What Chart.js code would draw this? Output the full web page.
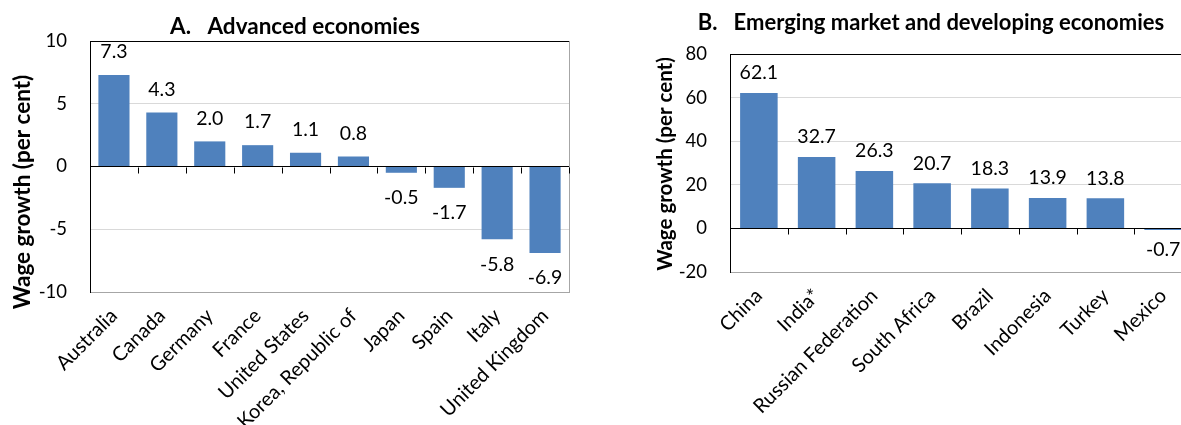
<!DOCTYPE html>
<html>
<head>
<meta charset="utf-8">
<script src="https://cdn.jsdelivr.net/npm/chart.js@4.4.0/dist/chart.umd.min.js"></script>
<style>
html, body { margin:0; padding:0; background:#fff; overflow:hidden; }
#wrap { position:relative; width:1181px; height:425px; overflow:hidden; }
#chartA { position:absolute; left:0; top:0; }
#chartB { position:absolute; left:590px; top:0; }
</style>
</head>
<body>
<div id="wrap">
  <canvas id="chartA" width="590" height="425"></canvas>
  <canvas id="chartB" width="620" height="425"></canvas>
</div>
<script>
// panel A: advanced economies
const advTitle = "A.   Advanced economies";
const advLabels = ["Australia", "Canada", "Germany", "France", "United States", "Korea, Republic of", "Japan", "Spain", "Italy", "United Kingdom"];
const advValues = [7.3, 4.3, 2.0, 1.7, 1.1, 0.8, -0.5, -1.7, -5.8, -6.9];
const advTicks = [-10, -5, 0, 5, 10];

// panel B: emerging market and developing economies
const emTitle = "B.   Emerging market and developing economies";
const emLabels = ["China", "India*", "Russian Federation", "South Africa", "Brazil", "Indonesia", "Turkey", "Mexico"];
const emValues = [62.1, 32.7, 26.3, 20.7, 18.3, 13.9, 13.8, -0.7];
const emTicks = [-20, 0, 20, 40, 60, 80];

const yTitle = "Wage growth (per cent)";

const barColor = "#4F81BD";
const gridColor = "#D9D9D9";
const fontFamily = "Lato, 'Open Sans', sans-serif";

// draws panel title, y title, value labels, zero-line tick marks and right border
const panelPlugin = {
    id: "panel",
    afterDraw(chart, args, opts){
        const ctx = chart.ctx;
        const area = chart.chartArea;
        const xs = chart.scales.x;
        const ys = chart.scales.y;
        ctx.save();

        // right border
        ctx.strokeStyle = "#A6A6A6";
        ctx.lineWidth = 1;
        ctx.beginPath();
        ctx.moveTo(Math.round(area.right) + 0.5, area.top);
        ctx.lineTo(Math.round(area.right) + 0.5, area.bottom);
        ctx.stroke();

        // tick marks on the zero line
        const y0 = Math.round(ys.getPixelForValue(0)) + 0.5;
        ctx.strokeStyle = "#000";
        ctx.beginPath();
        const n = chart.data.labels.length;
        for(let i = 1; i <= n; i++){
            let x;
            if(i < n){
                x = (xs.getPixelForValue(i - 1) + xs.getPixelForValue(i)) / 2;
            } else {
                x = area.right;
            }
            x = Math.round(x) + 0.5;
            ctx.moveTo(x, y0);
            ctx.lineTo(x, y0 + 6);
        }
        ctx.stroke();

        // value labels
        ctx.fillStyle = "#000";
        ctx.font = `${opts.valueSize}px ${fontFamily}`;
        ctx.textAlign = "center";
        ctx.textBaseline = "middle";
        const meta = chart.getDatasetMeta(0);
        const vals = chart.data.datasets[0].data;
        meta.data.forEach((bar, i)=>{
            const v = vals[i];
            const y = v >= 0 ? bar.y - opts.offPos : bar.y + opts.offNeg;
            ctx.fillText(v.toFixed(1), bar.x, y);
        });

        // panel title
        ctx.font = `bold ${opts.titleSize}px ${fontFamily}`;
        ctx.fillText(opts.title, opts.titleX, opts.titleY);

        // y axis title
        ctx.translate(opts.yTitleX, opts.yTitleY);
        ctx.rotate(-Math.PI / 2);
        ctx.font = `bold ${opts.yTitleSize}px ${fontFamily}`;
        ctx.fillText(yTitle, 0, 0);

        ctx.restore();
    }
};

function makePanel(canvasId, labels, values, ticks, padding, yWidth, xHeight, panelOpts){
    const tickMin = ticks[0];
    const tickMax = ticks[ticks.length - 1];
    return new Chart(document.getElementById(canvasId), {
        type: "bar",
        data: {
            labels: labels,
            datasets: [{
                data: values,
                backgroundColor: barColor,
                borderWidth: 0,
                barPercentage: 1,
                categoryPercentage: 0.65
            }]
        },
        options: {
            responsive: false,
            animation: false,
            devicePixelRatio: 1,
            layout: { padding: padding },
            plugins: {
                legend: { display: false },
                tooltip: { enabled: false },
                title: { display: false },
                panel: panelOpts
            },
            scales: {
                x: {
                    grid: { display: false, drawTicks: false },
                    border: { color: "#A6A6A6", width: 1 },
                    ticks: {
                        color: "#000",
                        font: { family: fontFamily, size: 20 },
                        minRotation: 45,
                        maxRotation: 45,
                        autoSkip: false,
                        padding: 12
                    },
                    afterFit: (s)=>{ s.height = xHeight; }
                },
                y: {
                    min: tickMin,
                    max: tickMax,
                    afterBuildTicks: (s)=>{ s.ticks = ticks.map(v=>({value: v})); },
                    grid: {
                        drawTicks: false,
                        color: (c)=>{
                            if(c.tick.value === 0 || c.tick.value === tickMax) return "#000";
                            if(c.tick.value === tickMin) return "#A6A6A6";
                            return gridColor;
                        }
                    },
                    border: { color: "#000", width: 1 },
                    ticks: {
                        color: "#000",
                        font: { family: fontFamily, size: 18.5 },
                        padding: 23
                    },
                    afterFit: (s)=>{ s.width = yWidth; }
                }
            }
        },
        plugins: [panelPlugin]
    });
}

makePanel("chartA", advLabels, advValues, advTicks,
    { top: 41, right: 21, bottom: 0, left: 0 }, 90, 133,
    { title: advTitle, titleX: 295, titleY: 27, titleSize: 22.5,
      yTitleX: 23, yTitleY: 192, yTitleSize: 22.5,
      valueSize: 19.5, offPos: 23, offNeg: 25 });

makePanel("chartB", emLabels, emValues, emTicks,
    { top: 54, right: 18, bottom: 0, left: 0 }, 140, 153,
    { title: emTitle, titleX: 341, titleY: 23, titleSize: 22,
      yTitleX: 75, yTitleY: 164, yTitleSize: 20.5,
      valueSize: 19.5, offPos: 20, offNeg: 20 });
</script>
</body>
</html>
